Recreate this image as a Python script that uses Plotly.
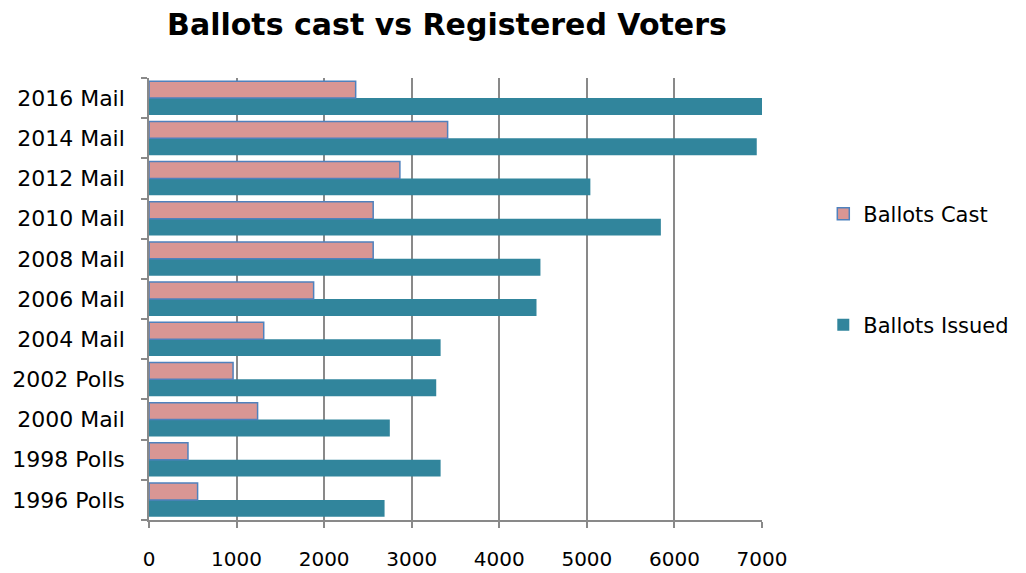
"""
Ballots cast vs registered voters, horizontal grouped bars
"""

import plotly.graph_objects as go

FONT = 'DejaVu Sans'
GRID = '#898989'

elections = ['1996 Polls', '1998 Polls', '2000 Mail', '2002 Polls', '2004 Mail', '2006 Mail',
             '2008 Mail', '2010 Mail', '2012 Mail', '2014 Mail', '2016 Mail']
ballots_cast = [555, 445, 1240, 960, 1310, 1880, 2560, 2560, 2865, 3410, 2360]
ballots_issued = [2690, 3330, 2750, 3280, 3330, 4425, 4470, 5845, 5040, 6940, 7000]
x_ticks = [0, 1000, 2000, 3000, 4000, 5000, 6000, 7000]


def make_figure():
    fig = go.Figure()
    # issued first so it sits below cast in each group
    fig.add_trace(go.Bar(y=elections, x=ballots_issued, orientation='h',
                         name='Ballots Issued', marker=dict(color='#31859C', line=dict(width=0)),
                         legend='legend2'))
    fig.add_trace(go.Bar(y=elections, x=ballots_cast, orientation='h',
                         name='Ballots Cast',
                         marker=dict(color='#D99694', line=dict(color='#4F81BD', width=1.5)),
                         legend='legend'))

    legend_style = dict(xanchor='left', yanchor='middle', font=dict(family=FONT, size=21),
                        itemwidth=30, bgcolor='rgba(0,0,0,0)')
    # page body has an 8px margin, so the figure is 8px smaller than the window
    fig.update_layout(
        width=1018, height=565,
        paper_bgcolor='white', plot_bgcolor='white',
        margin=dict(l=141, r=264, t=70, b=53),
        barmode='group', bargap=0.16, bargroupgap=0.0,
        font=dict(family=FONT, size=20, color='black'),
        title=dict(text='<b>Ballots cast vs Registered Voters</b>', x=0.4312, xanchor='center',
                   y=0.97, yanchor='middle', font=dict(family=FONT, size=30, color='black')),
        showlegend=True,
        legend=dict(x=1.1, y=0.692, **legend_style),
        legend2=dict(x=1.1, y=0.441, **legend_style),
    )
    fig.update_xaxes(range=[0, 7000], tickvals=x_ticks, showgrid=True, gridcolor=GRID,
                     gridwidth=1.5, showline=True, linecolor=GRID, linewidth=1.5,
                     ticks='outside', ticklen=6, tickcolor=GRID, tickwidth=1.5,
                     ticklabelstandoff=14, zeroline=False, tickfont=dict(size=20),
                     automargin=False)
    fig.update_yaxes(showgrid=False, showline=True, linecolor=GRID, linewidth=1.5,
                     ticks='outside', ticklen=6, tickcolor=GRID, tickwidth=1.5,
                     tickson='boundaries', ticklabelstandoff=18, tickfont=dict(size=22),
                     automargin=False)
    return fig


if __name__ == "__main__":
    fig = make_figure()
    fig.write_html('out.html')
